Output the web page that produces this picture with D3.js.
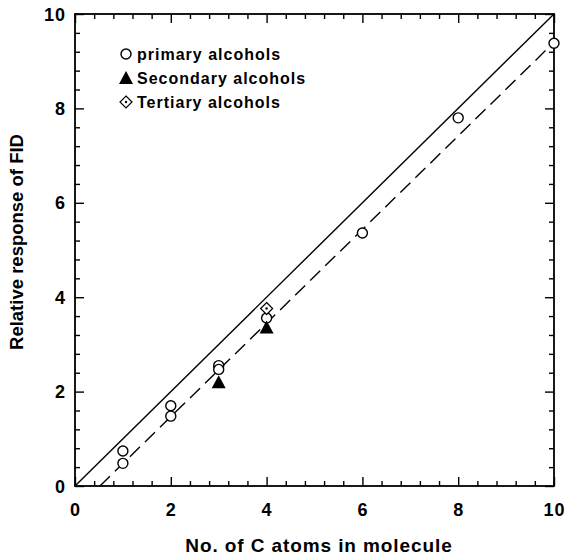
<!DOCTYPE html>
<html>
<head>
<meta charset="utf-8">
<script src="https://cdn.jsdelivr.net/npm/d3@7"></script>
<style>
  body { margin: 0; background: #fff; }
  text { font-family: "Liberation Sans", Arial, sans-serif; fill: #000; font-weight: bold; }
</style>
</head>
<body>
<div id="viz"></div>
<script>
// data
var primaryX = [1, 1, 2, 2, 3, 3, 4, 6, 8, 10];
var primaryY = [0.74, 0.48, 1.70, 1.48, 2.55, 2.47, 3.56, 5.36, 7.80, 9.38];
var secondaryX = [3, 4];
var secondaryY = [2.20, 3.36];
var tertiaryX = [4];
var tertiaryY = [3.76];
// solid line (ideal) and dashed line (fit)
var solidLine = [[0, 0], [10, 10]];
var dashedLine = [[0.52, 0], [10, 9.40]];
var majorTicks = [0, 2, 4, 6, 8, 10];
var legendLabels = ["primary alcohols", "Secondary alcohols", "Tertiary alcohols"];

var W = 565, H = 558;
var margin = {top: 14, right: 11, bottom: 72, left: 75};

var svg = d3.select("#viz")
  .append("svg")
    .attr("width", W)
    .attr("height", H);

var x = d3.scaleLinear().domain([0, 10]).range([margin.left, W - margin.right]);
var y = d3.scaleLinear().domain([0, 10]).range([H - margin.bottom, margin.top]);

var minorTicks = d3.range(0, 10.01, 0.4).filter(function(v) {
  return Math.abs(v / 2 - Math.round(v / 2)) > 1e-6;
});

// axes, ticks pointing inward on all four sides
function addAxis(axisFn, scale, transform, size, values) {
  svg.append("g")
    .attr("transform", transform)
    .call(axisFn(scale).tickValues(values).tickSize(size).tickFormat(""))
    .call(function(g) { g.select(".domain").remove(); })
    .selectAll("line").attr("stroke", "#000").attr("stroke-width", 1.4);
}
var x0 = x(0), x1 = x(10), y0 = y(0), y1 = y(10);
addAxis(d3.axisTop, x, "translate(0," + y0 + ")", 9, majorTicks);
addAxis(d3.axisTop, x, "translate(0," + y0 + ")", 5, minorTicks);
addAxis(d3.axisBottom, x, "translate(0," + y1 + ")", 9, majorTicks);
addAxis(d3.axisBottom, x, "translate(0," + y1 + ")", 5, minorTicks);
addAxis(d3.axisRight, y, "translate(" + x0 + ",0)", 9, majorTicks);
addAxis(d3.axisRight, y, "translate(" + x0 + ",0)", 5, minorTicks);
addAxis(d3.axisLeft, y, "translate(" + x1 + ",0)", 9, majorTicks);
addAxis(d3.axisLeft, y, "translate(" + x1 + ",0)", 5, minorTicks);

svg.append("rect")
  .attr("x", x0).attr("y", y1)
  .attr("width", x1 - x0).attr("height", y0 - y1)
  .attr("fill", "none").attr("stroke", "#000").attr("stroke-width", 1.8);

// tick labels
svg.selectAll(".xl").data(majorTicks).enter().append("text")
  .attr("x", function(d) { return x(d) + 0.5; })
  .attr("y", y0 + 30)
  .attr("text-anchor", "middle")
  .attr("font-size", 18).attr("letter-spacing", 1)
  .text(function(d) { return d; });

svg.selectAll(".yl").data(majorTicks).enter().append("text")
  .attr("x", x0 - 9)
  .attr("y", function(d) { return y(d) + 6.5; })
  .attr("text-anchor", "end")
  .attr("font-size", 18).attr("letter-spacing", 1)
  .text(function(d) { return d; });

// axis titles
svg.append("text")
  .attr("x", 319).attr("y", 552)
  .attr("text-anchor", "middle")
  .attr("font-size", 19).attr("letter-spacing", 0.9)
  .text("No. of C atoms in molecule");

svg.append("text")
  .attr("transform", "translate(23,242) rotate(-90)")
  .attr("text-anchor", "middle")
  .attr("font-size", 18.5)
  .text("Relative response of FID");

// lines
var line = d3.line().x(function(d) { return x(d[0]); }).y(function(d) { return y(d[1]); });
svg.append("path").attr("d", line(solidLine))
  .attr("fill", "none").attr("stroke", "#000").attr("stroke-width", 1.4);
svg.append("path").attr("d", line(dashedLine))
  .attr("fill", "none").attr("stroke", "#000").attr("stroke-width", 1.4)
  .attr("stroke-dasharray", "14,7");

// marker helpers
function circle(g, cx, cy) {
  g.append("circle").attr("cx", cx).attr("cy", cy).attr("r", 5)
    .attr("fill", "#fff").attr("stroke", "#000").attr("stroke-width", 1.4);
}
function triangle(g, cx, cy) {
  g.append("path")
    .attr("d", "M" + cx + "," + (cy - 7) + "L" + (cx + 7) + "," + (cy + 6) + "L" + (cx - 7) + "," + (cy + 6) + "Z")
    .attr("fill", "#000");
}
function diamond(g, cx, cy) {
  g.append("path")
    .attr("d", "M" + cx + "," + (cy - 6) + "L" + (cx + 6) + "," + cy + "L" + cx + "," + (cy + 6) + "L" + (cx - 6) + "," + cy + "Z")
    .attr("fill", "#fff").attr("stroke", "#000").attr("stroke-width", 1.2);
  g.append("circle").attr("cx", cx).attr("cy", cy).attr("r", 1.2).attr("fill", "#000");
}

var pts = svg.append("g");
primaryX.forEach(function(v, i) { circle(pts, x(v), y(primaryY[i])); });
tertiaryX.forEach(function(v, i) { diamond(pts, x(v), y(tertiaryY[i])); });
secondaryX.forEach(function(v, i) { triangle(pts, x(v), y(secondaryY[i])); });

// legend
var legend = svg.append("g");
var markers = [circle, triangle, diamond];
legendLabels.forEach(function(lab, i) {
  var ly = 54 + i * 24;
  markers[i](legend, 126, ly);
  legend.append("text")
    .attr("x", 137).attr("y", ly + 6)
    .attr("font-size", 16).attr("letter-spacing", 1)
    .text(lab);
});
</script>
</body>
</html>
